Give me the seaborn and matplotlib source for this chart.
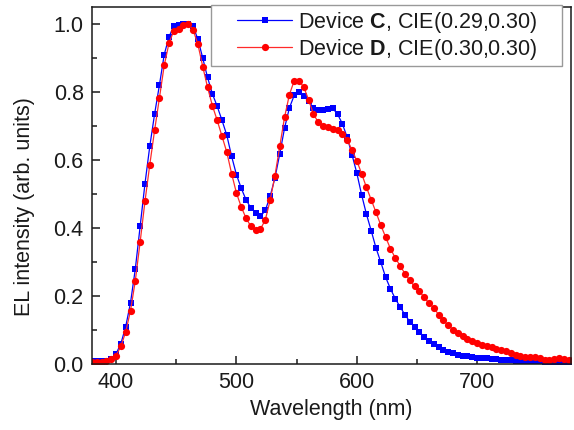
import numpy as np
import pandas as pd
import matplotlib
matplotlib.use("Agg")
import matplotlib.pyplot as plt
from matplotlib.ticker import MultipleLocator
from matplotlib.legend_handler import HandlerLine2D
import seaborn as sns

wavelength = [
    380, 384, 388, 392, 396, 400, 404, 408, 412, 416, 420, 424, 428, 432, 436, 440, 444, 448, 452, 456,
    460, 464, 468, 472, 476, 480, 484, 488, 492, 496, 500, 504, 508, 512, 516, 520, 524, 528, 532, 536,
    540, 544, 548, 552, 556, 560, 564, 568, 572, 576, 580, 584, 588, 592, 596, 600, 604, 608, 612, 616,
    620, 624, 628, 632, 636, 640, 644, 648, 652, 656, 660, 664, 668, 672, 676, 680, 684, 688, 692, 696,
    700, 704, 708, 712, 716, 720, 724, 728, 732, 736, 740, 744, 748, 752, 756, 760, 764, 768, 772, 776,
    780,
]

device_c = [
    0.008, 0.008, 0.009, 0.010, 0.015, 0.030, 0.060, 0.110, 0.180, 0.280, 0.405, 0.530, 0.640, 0.735,
    0.820, 0.910, 0.962, 0.995, 0.997, 1.000, 1.000, 0.993, 0.955, 0.900, 0.843, 0.795, 0.758, 0.717,
    0.673, 0.611, 0.557, 0.517, 0.483, 0.459, 0.444, 0.434, 0.452, 0.493, 0.547, 0.618, 0.694, 0.753,
    0.790, 0.800, 0.787, 0.773, 0.753, 0.746, 0.748, 0.750, 0.752, 0.735, 0.707, 0.667, 0.616, 0.562,
    0.498, 0.441, 0.392, 0.341, 0.299, 0.255, 0.221, 0.192, 0.168, 0.145, 0.125, 0.109, 0.094, 0.080,
    0.068, 0.059, 0.049, 0.042, 0.036, 0.031, 0.027, 0.025, 0.023, 0.021, 0.019, 0.018, 0.017, 0.016,
    0.015, 0.013, 0.012, 0.011, 0.010, 0.010, 0.009, 0.009, 0.008, 0.008, 0.007, 0.007, 0.006, 0.006,
    0.005, 0.005, 0.005,
]

device_d = [
    0.005, 0.005, 0.007, 0.010, 0.015, 0.025, 0.052, 0.094, 0.157, 0.245, 0.359, 0.478, 0.586, 0.687,
    0.782, 0.878, 0.944, 0.980, 0.985, 0.998, 1.000, 0.983, 0.940, 0.875, 0.814, 0.760, 0.717, 0.670,
    0.623, 0.560, 0.503, 0.462, 0.429, 0.405, 0.395, 0.397, 0.424, 0.481, 0.554, 0.640, 0.726, 0.792,
    0.833, 0.833, 0.814, 0.777, 0.735, 0.711, 0.701, 0.696, 0.692, 0.687, 0.676, 0.660, 0.630, 0.598,
    0.560, 0.520, 0.483, 0.446, 0.408, 0.373, 0.339, 0.312, 0.289, 0.266, 0.246, 0.228, 0.214, 0.196,
    0.179, 0.165, 0.145, 0.128, 0.114, 0.101, 0.090, 0.081, 0.074, 0.067, 0.062, 0.057, 0.053, 0.049,
    0.045, 0.042, 0.037, 0.032, 0.027, 0.023, 0.020, 0.021, 0.021, 0.017, 0.013, 0.012, 0.015, 0.017,
    0.015, 0.013, 0.012,
]

labels = [r"Device $\mathbf{C}$, CIE(0.29,0.30)", r"Device $\mathbf{D}$, CIE(0.30,0.30)"]

sns.set_style("ticks")
plt.rcParams["font.family"] = ["Liberation Sans", "DejaVu Sans"]
plt.rcParams["mathtext.fontset"] = "custom"
plt.rcParams["mathtext.rm"] = "Liberation Sans"
plt.rcParams["mathtext.bf"] = "Liberation Sans:bold"

TXT = "#1a1a1a"
FS = 15.5

W, H = 574, 430
fig = plt.figure(figsize=(W / 100, H / 100), dpi=100)
ax = fig.add_axes([92 / W, 1 - 364 / H, 479 / W, 357 / H])

df_c = pd.DataFrame({"wl": wavelength, "val": device_c})
df_d = pd.DataFrame({"wl": wavelength, "val": device_d})

sns.lineplot(data=df_c, x="wl", y="val", ax=ax, color="#0000ff", marker="s",
             markersize=4.4, markeredgewidth=0, linewidth=0.9, label=labels[0])
sns.lineplot(data=df_d, x="wl", y="val", ax=ax, color="#ff2a2a", marker="o",
             markersize=5.2, markeredgewidth=0, linewidth=0.9, label=labels[1],
             markerfacecolor="#ff0000")

ax.set_xlim(380, 778)
ax.set_ylim(0, 1.05)
ax.xaxis.set_major_locator(MultipleLocator(100))
ax.xaxis.set_minor_locator(MultipleLocator(50))
ax.yaxis.set_major_locator(MultipleLocator(0.2))
ax.yaxis.set_minor_locator(MultipleLocator(0.1))
ax.yaxis.set_major_formatter(matplotlib.ticker.FormatStrFormatter("%.1f"))

for s in ax.spines.values():
    s.set_visible(True)
    s.set_linewidth(1.1)
    s.set_color(TXT)

ax.tick_params(which="major", direction="in", length=6, width=1.1, labelsize=FS,
               pad=6, colors=TXT, labelcolor=TXT)
ax.tick_params(which="minor", direction="in", length=3.5, width=1.1, colors=TXT)

ax.set_xlabel("Wavelength (nm)", fontsize=FS, color=TXT, labelpad=4)
ax.set_ylabel("EL intensity (arb. units)", fontsize=FS, color=TXT)
ax.yaxis.set_label_coords(-0.118, 0.44)

fs_px = FS * 100 / 72
bpad = 0.22
xpad = (26 - bpad * fs_px) / fs_px
handles, _ = ax.get_legend_handles_labels()
leg = ax.legend(handles, labels, loc="upper left",
                bbox_to_anchor=((211 - 92) / 479, 0, 351 / 479, 1.006),
                mode="expand", borderaxespad=0,
                fontsize=FS, frameon=True, fancybox=False,
                handlelength=xpad + 55 / fs_px, handletextpad=0.3,
                borderpad=bpad, labelspacing=0.1,
                handler_map={h: HandlerLine2D(xpad=xpad) for h in handles})
leg.get_frame().set_edgecolor("#999999")
leg.get_frame().set_linewidth(1.0)
leg.get_frame().set_alpha(1)
for t in leg.get_texts():
    t.set_color(TXT)

fig.savefig("out.png", dpi=100)
